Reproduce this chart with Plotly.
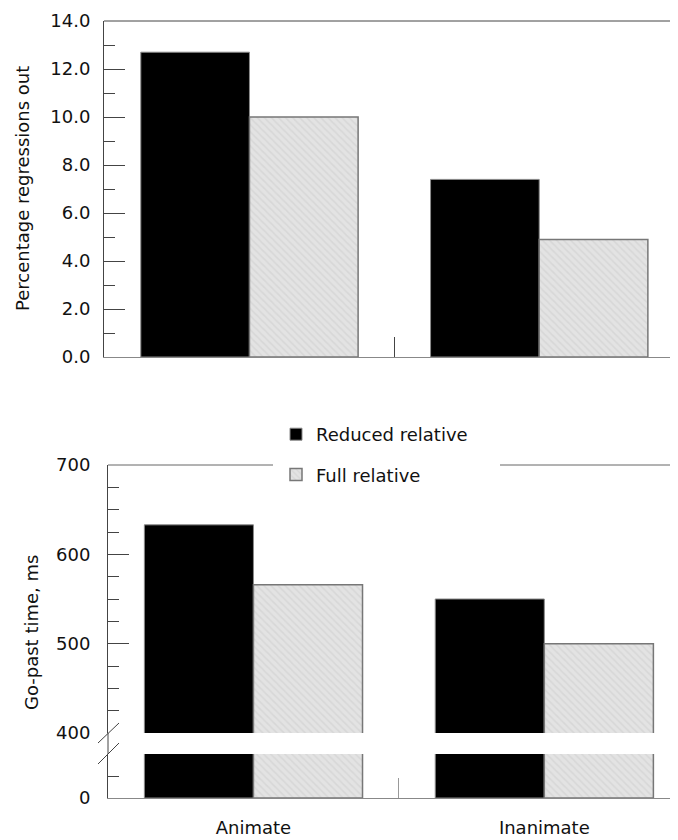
import plotly.graph_objects as go

# ---------------- data ----------------
categories = ["Animate", "Inanimate"]
series_names = ["Reduced relative", "Full relative"]
regressions_reduced = [12.7, 7.4]
regressions_full = [10.0, 4.9]
gopast_reduced = [633, 550]
gopast_full = [566, 500]
regress_ticks = [0, 2, 4, 6, 8, 10, 12, 14]
gopast_ticks_upper = [400, 500, 600, 700]
gopast_ticks_lower = [0]
y_titles = ["Percentage regressions out", "Go-past time, ms"]

# ---------------- layout helpers ----------------
# page has an 8px body margin; figure fills the rest of the 678x840 window
OFF = 8
W, H = 678 - OFF, 840 - OFF


def fx(p):
    return (p - OFF) / W


def fy(p):
    return 1 - (p - OFF) / H


FONT = "DejaVu Sans"
FS = 18
AXC = "#444444"
BASEC = "#888888"
TOP = 21  # top frame of the upper panel (window px)
xpos = list(range(len(categories)))

reduced_style = dict(color="#000000", line=dict(color="#8a8a8a", width=1))
full_style = dict(
    color="#e3e3e3",
    line=dict(color="#777777", width=1.5),
    pattern=dict(shape="\\", fgcolor="#cbcbcb", bgcolor="#e3e3e3", size=5, solidity=0.3),
)

fig = go.Figure()

# top panel
fig.add_trace(go.Bar(x=xpos, y=regressions_reduced, name=series_names[0], marker=reduced_style,
                     xaxis="x", yaxis="y", legendgroup="a", showlegend=True))
fig.add_trace(go.Bar(x=xpos, y=regressions_full, name=series_names[1], marker=full_style,
                     xaxis="x", yaxis="y", legendgroup="b", showlegend=True))
# bottom panel, lower segment
fig.add_trace(go.Bar(x=xpos, y=gopast_reduced, name=series_names[0], marker=reduced_style,
                     xaxis="x2", yaxis="y2", legendgroup="a", showlegend=False))
fig.add_trace(go.Bar(x=xpos, y=gopast_full, name=series_names[1], marker=full_style,
                     xaxis="x2", yaxis="y2", legendgroup="b", showlegend=False))
# bottom panel, upper segment
fig.add_trace(go.Bar(x=xpos, y=gopast_reduced, name=series_names[0], marker=reduced_style,
                     xaxis="x3", yaxis="y3", legendgroup="a", showlegend=False))
fig.add_trace(go.Bar(x=xpos, y=gopast_full, name=series_names[1], marker=full_style,
                     xaxis="x3", yaxis="y3", legendgroup="b", showlegend=False))

tickfont = dict(family=FONT, size=FS, color="#111111")

fig.update_layout(
    width=W, height=H,
    margin=dict(l=0, r=0, t=0, b=0, pad=0, autoexpand=False),
    paper_bgcolor="white", plot_bgcolor="white",
    barmode="group", bargap=0.25, bargroupgap=0,
    font=dict(family=FONT, size=FS, color="#111111"),
    showlegend=True,
    legend=dict(x=fx(276), y=fy(416), xanchor="left", yanchor="top",
                bgcolor="rgba(0,0,0,0)", font=dict(family=FONT, size=FS, color="#111111"),
                traceorder="grouped", tracegroupgap=14),
    xaxis=dict(anchor="y", domain=[fx(104), 1], range=[-0.502, 1.479], showgrid=False, zeroline=False,
               automargin=False,
               showline=True, linecolor=BASEC, linewidth=1, showticklabels=False,
               tickvals=xpos, ticks="",
               minor=dict(tickmode="array", tickvals=[0.5], ticks="inside", ticklen=20,
                          tickcolor=AXC, tickwidth=1)),
    yaxis=dict(anchor="x", domain=[fy(357), fy(TOP)], range=[0, 14], showgrid=False, zeroline=False,
               automargin=False, ticklabeloverflow="allow",
               showline=True, linecolor=AXC, linewidth=1,
               tickmode="array", tickvals=regress_ticks, tickformat=".1f",
               ticks="inside", ticklen=21, tickcolor=AXC, tickwidth=1,
               ticklabelstandoff=9, tickfont=tickfont,
               minor=dict(dtick=1, tick0=0, ticks="inside", ticklen=11, tickcolor=AXC, tickwidth=1)),
    xaxis2=dict(anchor="y2", domain=[fx(108), 1], range=[-0.5, 1.4596], showgrid=False, zeroline=False,
                automargin=False, ticklabeloverflow="allow",
                showline=True, linecolor=BASEC, linewidth=1,
                tickmode="array", tickvals=xpos, ticktext=categories, ticks="",
                ticklabelstandoff=13, tickfont=tickfont,
                minor=dict(tickmode="array", tickvals=[0.5], ticks="inside", ticklen=20,
                           tickcolor="#999999", tickwidth=1)),
    yaxis2=dict(anchor="x2", domain=[fy(798), fy(754)], range=[0, 50], showgrid=False, zeroline=False,
                automargin=False, ticklabeloverflow="allow",
                showline=True, linecolor=AXC, linewidth=1,
                tickmode="array", tickvals=gopast_ticks_lower,
                ticks="inside", ticklen=21, tickcolor=AXC, tickwidth=1,
                ticklabelstandoff=13, tickfont=tickfont,
                minor=dict(tickmode="array", tickvals=[25, 50], ticks="inside", ticklen=11,
                           tickcolor=AXC, tickwidth=1)),
    xaxis3=dict(anchor="y3", matches="x2", domain=[fx(108), 1], range=[-0.5, 1.4596],
                visible=False, showgrid=False, zeroline=False, automargin=False),
    yaxis3=dict(anchor="x3", domain=[fy(733), fy(465)], range=[400, 700], showgrid=False, zeroline=False,
                automargin=False, ticklabeloverflow="allow",
                showline=True, linecolor=AXC, linewidth=1,
                tickmode="array", tickvals=gopast_ticks_upper,
                ticks="inside", ticklen=21, tickcolor=AXC, tickwidth=1,
                ticklabelstandoff=13, tickfont=tickfont,
                minor=dict(dtick=25, tick0=400, ticks="inside", ticklen=11, tickcolor=AXC, tickwidth=1)),
)

line = dict(color=AXC, width=1)
shapes = [
    # top frame line of upper panel
    dict(type="line", xref="paper", yref="paper", x0=fx(104), x1=1, y0=fy(TOP), y1=fy(TOP), line=line),
    # top frame line of lower panel, interrupted by the legend
    dict(type="line", xref="paper", yref="paper", x0=fx(108), x1=fx(273), y0=fy(465), y1=fy(465),
         line=dict(color="#666666", width=1)),
    dict(type="line", xref="paper", yref="paper", x0=fx(500), x1=1, y0=fy(465), y1=fy(465),
         line=dict(color="#666666", width=1)),
    # axis line through the break
    dict(type="line", xref="paper", yref="paper", x0=fx(108), x1=fx(108), y0=fy(733), y1=fy(754), line=line),
    # break marks
    dict(type="line", xref="paper", yref="paper", x0=fx(98), x1=fx(119), y0=fy(743), y1=fy(723), line=line),
    dict(type="line", xref="paper", yref="paper", x0=fx(98), x1=fx(119), y0=fy(764), y1=fy(743), line=line),
]
fig.update_layout(shapes=shapes)

fig.add_annotation(text=y_titles[0], xref="paper", yref="paper", x=fx(23), y=fy(189),
                   xanchor="center", yanchor="middle", textangle=-90, showarrow=False,
                   font=dict(family=FONT, size=FS, color="#111111"))
fig.add_annotation(text=y_titles[1], xref="paper", yref="paper", x=fx(31), y=fy(633),
                   xanchor="center", yanchor="middle", textangle=-90, showarrow=False,
                   font=dict(family=FONT, size=FS, color="#111111"))

fig.write_html("out.html")
